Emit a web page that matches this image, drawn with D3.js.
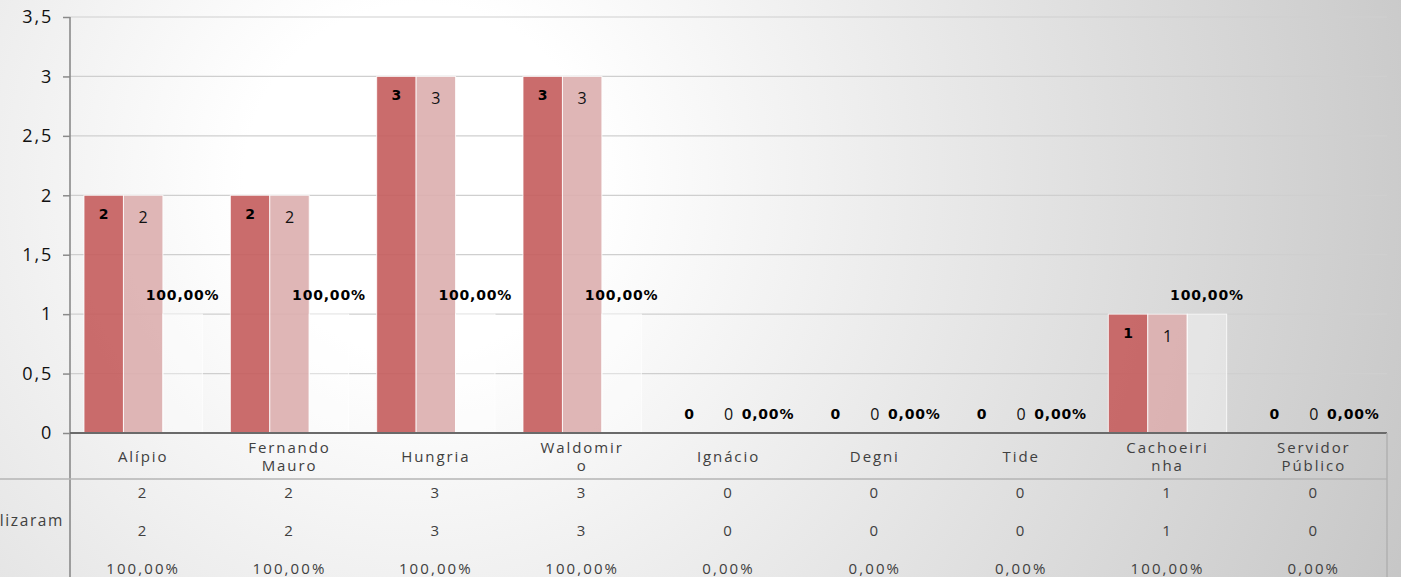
<!DOCTYPE html>
<html>
<head>
<meta charset="utf-8">
<script src="https://cdn.jsdelivr.net/npm/d3@7"></script>
<style>
  html, body { margin: 0; padding: 0; overflow: hidden; }
  svg { display: block; }
  text { font-family: "Open Sans", "DejaVu Sans", sans-serif; }
</style>
</head>
<body>
<svg id="chart" width="1401" height="577"></svg>
<script>
// Categories (line breaks as wrapped in the category row)
const categories = ["Alípio", "Fernando Mauro", "Hungria", "Waldomiro", "Ignácio", "Degni", "Tide", "Cachoeirinha", "Servidor Público"];
const categoryLines = [["Alípio"], ["Fernando", "Mauro"], ["Hungria"], ["Waldomir", "o"], ["Ignácio"], ["Degni"], ["Tide"], ["Cachoeiri", "nha"], ["Servidor", "Público"]];
// Series values
const inscritos = [2, 2, 3, 3, 0, 0, 0, 1, 0];
const realizaram = [2, 2, 3, 3, 0, 0, 0, 1, 0];
const percentual = [1, 1, 1, 1, 0, 0, 0, 1, 0];
// Axis ticks
const yTicks = [0, 0.5, 1, 1.5, 2, 2.5, 3, 3.5];
const rowHeader = "lizaram";

const W = 1401, H = 577;
const svg = d3.select("#chart");

// Background radial gradient
const defs = svg.append("defs");
const grad = defs.append("radialGradient")
  .attr("id", "bg").attr("gradientUnits", "userSpaceOnUse")
  .attr("cx", 420).attr("cy", 180).attr("r", 1100);
grad.append("stop").attr("offset", 0).attr("stop-color", "#ffffff");
grad.append("stop").attr("offset", 0.16).attr("stop-color", "#ffffff");
grad.append("stop").attr("offset", 1).attr("stop-color", "#c4c4c4");
svg.append("rect").attr("width", W).attr("height", H).attr("fill", "url(#bg)");

const plotL = 70, plotR = 1387, plotT = 17, plotB = 433;

const x = d3.scaleBand().domain(categories).range([plotL, plotR]);
const pad = 14;
const sub = d3.scaleBand().domain([0, 1, 2]).range([pad, x.bandwidth() - pad]);
const y = d3.scaleLinear().domain([0, 3.5]).range([plotB, plotT]);

const fmtNum = d => String(d).replace(".", ",");
const fmtPct = d => (d * 100).toFixed(2).replace(".", ",") + "%";

// Gridlines
svg.append("g").selectAll("line").data(yTicks.filter(t => t > 0)).join("line")
  .attr("x1", plotL).attr("x2", plotR)
  .attr("y1", d => y(d)).attr("y2", d => y(d))
  .attr("stroke", "#cfcfcf").attr("stroke-width", 1.2);

// Y axis
const yAxis = d3.axisLeft(y).tickValues(yTicks).tickFormat(fmtNum).tickSize(7).tickPadding(10);
const ga = svg.append("g").attr("transform", `translate(${plotL},0)`).call(yAxis);
ga.select(".domain").remove();
ga.selectAll(".tick line").attr("stroke", "#8a8a8a").attr("stroke-width", 1.5);
ga.selectAll(".tick text")
  .attr("fill", "#111").style("font-size", "18px").style("letter-spacing", "1.8px")
  .style("font-family", "'Open Sans', sans-serif");

// Bars
const series = [
  { vals: inscritos, fill: "#c65f5f", op: 0.92 },
  { vals: realizaram, fill: "#dcaeae", op: 0.9 },
  { vals: percentual, fill: "#ffffff", op: 0.35 }
];
series.forEach((s, si) => {
  svg.append("g").selectAll("rect").data(s.vals).join("rect")
    .attr("x", (d, i) => x(categories[i]) + sub(si))
    .attr("width", sub.bandwidth())
    .attr("y", d => y(d))
    .attr("height", d => y(0) - y(d))
    .attr("fill", s.fill).attr("fill-opacity", s.op)
    .attr("stroke", "#ffffff").attr("stroke-opacity", 0.8).attr("stroke-width", 1);
});

// Vertical axis line (runs through the data table)
svg.append("line").attr("x1", plotL).attr("x2", plotL).attr("y1", plotT).attr("y2", H)
  .attr("stroke", "#8a8a8a").attr("stroke-width", 1.6);

// Data labels
const boldFont = "'DejaVu Sans', sans-serif";
const cx = (i, si) => x(categories[i]) + sub(si) + sub.bandwidth() / 2;
const lab = svg.append("g");
lab.selectAll("text.s0").data(inscritos).join("text")
  .attr("x", (d, i) => cx(i, 0))
  .attr("y", d => d > 0 ? y(d) + 19 : y(0) - 19)
  .attr("text-anchor", "middle").attr("dominant-baseline", "central")
  .style("font-family", boldFont)
  .style("font-size", "14px").style("font-weight", "bold").attr("fill", "#000")
  .text(fmtNum);
lab.selectAll("text.s1").data(realizaram).join("text")
  .attr("x", (d, i) => cx(i, 1))
  .attr("y", d => d > 0 ? y(d) + 22 : y(0) - 19)
  .attr("text-anchor", "middle").attr("dominant-baseline", "central")
  .style("font-size", "16px").attr("fill", "#111")
  .text(fmtNum);
lab.selectAll("text.s2").data(percentual).join("text")
  .attr("x", (d, i) => cx(i, 2))
  .attr("y", d => y(d) - 19)
  .attr("text-anchor", "middle").attr("dominant-baseline", "central")
  .style("font-family", boldFont)
  .style("font-size", "14px").style("font-weight", "bold").style("letter-spacing", "0.8px")
  .attr("fill", "#000")
  .text(fmtPct);

// Category axis baseline
svg.append("line").attr("x1", plotL).attr("x2", plotR).attr("y1", plotB).attr("y2", plotB)
  .attr("stroke", "#6a6a6a").attr("stroke-width", 2);

// Data table lines
const rowTop = 479;
svg.append("line").attr("x1", 0).attr("x2", plotR).attr("y1", rowTop).attr("y2", rowTop)
  .attr("stroke", "#b4b4b4").attr("stroke-width", 1.5);
svg.append("line").attr("x1", plotR).attr("x2", plotR).attr("y1", plotB).attr("y2", H)
  .attr("stroke", "#b0b0b0").attr("stroke-width", 1.5);

// Category labels: one text element per wrapped line
const catLineData = [];
categoryLines.forEach((lines, i) => {
  const start = lines.length === 1 ? 456 : 447;
  lines.forEach((ln, k) => catLineData.push({ cat: categories[i], text: ln, y: start + k * 18 }));
});
svg.append("g").selectAll("text").data(catLineData).join("text")
  .attr("x", d => x(d.cat) + x.bandwidth() / 2)
  .attr("y", d => d.y)
  .attr("text-anchor", "middle").attr("dominant-baseline", "central")
  .attr("fill", "#404040").style("font-size", "15px").style("letter-spacing", "1.9px")
  .text(d => d.text);

// Table rows
const rows = [
  { vals: inscritos, f: fmtNum, y: 492 },
  { vals: realizaram, f: fmtNum, y: 530 },
  { vals: percentual, f: fmtPct, y: 568 }
];
rows.forEach(r => {
  svg.append("g").selectAll("text").data(r.vals).join("text")
    .attr("x", (d, i) => x(categories[i]) + x.bandwidth() / 2)
    .attr("y", r.y).attr("dominant-baseline", "central").attr("text-anchor", "middle")
    .attr("fill", "#404040").style("font-size", "15px").style("letter-spacing", "2.1px")
    .text(r.f);
});

// Row header
svg.append("text").attr("x", 64).attr("y", 520).attr("text-anchor", "end")
  .attr("dominant-baseline", "central")
  .attr("fill", "#404040").style("font-size", "15.5px").style("letter-spacing", "1.6px")
  .text(rowHeader);
</script>
</body>
</html>
